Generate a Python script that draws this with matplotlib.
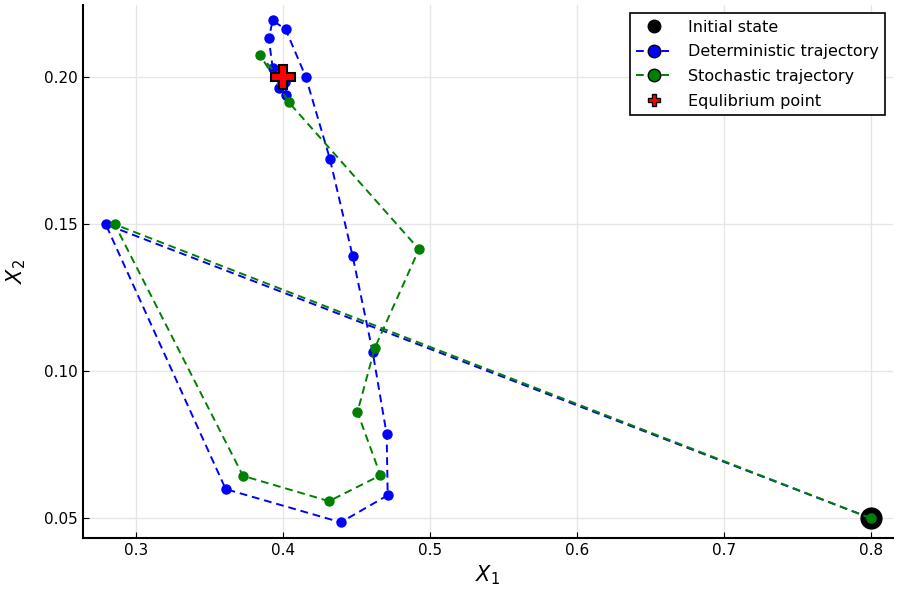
import matplotlib
matplotlib.use("Agg")
import matplotlib.pyplot as plt

# estado inicial y punto de equilibrio
x0 = [0.8]
y0 = [0.05]
eq_x = [0.4]
eq_y = [0.2]

# trayectoria determinista
det_x = [0.8, 0.2796, 0.3612, 0.4395, 0.4714, 0.4707, 0.4612, 0.4476, 0.432, 0.4156,
         0.402, 0.3932, 0.3905, 0.3932, 0.3973, 0.4025, 0.4015, 0.3995, 0.4]
det_y = [0.05, 0.15, 0.0599, 0.0486, 0.0578, 0.0786, 0.1065, 0.1391, 0.1724, 0.2003,
         0.2163, 0.2194, 0.2133, 0.2031, 0.1963, 0.1941, 0.1985, 0.2005, 0.2]

# trayectoria estocastica
sto_x = [0.8, 0.2857, 0.373, 0.4315, 0.4665, 0.4508, 0.4626, 0.4927, 0.404, 0.3848, 0.3985]
sto_y = [0.05, 0.15, 0.0644, 0.0558, 0.0646, 0.0861, 0.1079, 0.1415, 0.1916, 0.2075, 0.1995]

fig = plt.figure(figsize=(9, 6), dpi=100)
ax = fig.add_axes([0.092, 0.103, 0.9, 0.888])

ax.plot(x0, y0, 'o', color='black', ms=15, label='Initial state', zorder=3)
ax.plot(det_x, det_y, '--o', color='blue', ms=6.5, lw=1.4, dashes=(4, 2.5),
        label='Deterministic trajectory', zorder=4)
ax.plot(sto_x, sto_y, '--o', color='green', ms=6.5, lw=1.4, dashes=(4, 2.5),
        label='Stochastic trajectory', zorder=5)
ax.plot(eq_x, eq_y, 'P', color='red', mec='black', mew=1.5, ms=17, label='Equlibrium point', zorder=6)

ax.set_xlim(0.264, 0.815)
ax.set_ylim(0.0432, 0.2245)
ax.set_xticks([0.3, 0.4, 0.5, 0.6, 0.7, 0.8])
ax.set_yticks([0.05, 0.10, 0.15, 0.20])
ax.set_yticklabels(['0.05', '0.10', '0.15', '0.20'])
ax.set_xlabel('$X_1$', fontsize=15)
ax.set_ylabel('$X_2$', fontsize=15, labelpad=12)
ax.grid(True, color='#e6e6e6', lw=1)
ax.set_axisbelow(True)
for s in ['top', 'right']:
    ax.spines[s].set_visible(False)
for s in ['left', 'bottom']:
    ax.spines[s].set_linewidth(1.5)
ax.tick_params(direction='in', labelsize=11, length=4)

leg = ax.legend(loc='upper right', fontsize=11.5, frameon=True, fancybox=False,
                edgecolor='black', framealpha=1, borderpad=0.4, handlelength=2.2,
                labelspacing=0.6, borderaxespad=0.5, handletextpad=1.0)
leg.get_frame().set_linewidth(1.2)
for h in leg.legend_handles:
    h.set_markersize(9)
    h.set_markeredgecolor('black')
    h.set_markeredgewidth(1)

plt.savefig('out.png', dpi=100)
